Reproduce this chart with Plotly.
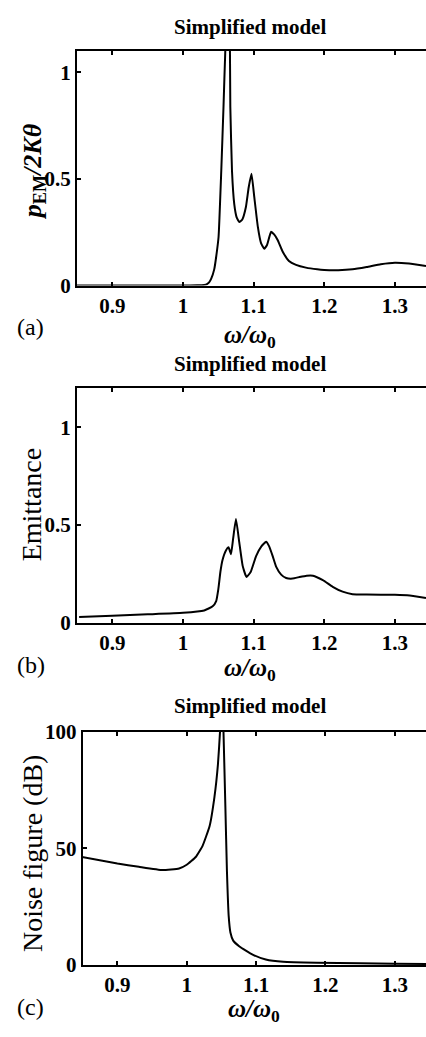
import plotly.graph_objects as go

W, H = 426, 1037

# ---------------- data ----------------
omega_a = [0.85, 0.95, 1.00, 1.02, 1.03, 1.034, 1.037, 1.040, 1.0443, 1.047, 1.0504, 1.0542, 1.0574, 1.0599,
           1.0625, 1.065, 1.0665, 1.067, 1.0694, 1.0726, 1.076, 1.0797, 1.084, 1.089, 1.093, 1.097,
           1.101, 1.106, 1.1105, 1.115, 1.119, 1.1247, 1.129, 1.134, 1.141, 1.150, 1.16, 1.174, 1.19,
           1.20, 1.22, 1.24, 1.26, 1.28, 1.30, 1.32, 1.344]
pem_a = [0.0, 0.0, 0.0, 0.001, 0.003, 0.007, 0.015, 0.032, 0.077, 0.135, 0.229, 0.537, 0.841, 1.1,
         1.25, 1.22, 1.1, 0.84, 0.537, 0.382, 0.32, 0.298, 0.31, 0.367, 0.46, 0.524,
         0.413, 0.275, 0.199, 0.173, 0.19, 0.252, 0.24, 0.214, 0.16, 0.115, 0.097, 0.084, 0.076,
         0.073, 0.072, 0.076, 0.087, 0.100, 0.107, 0.103, 0.092]

omega_b = [0.853, 0.9, 0.95, 1.0, 1.03, 1.042, 1.047, 1.050, 1.053, 1.056, 1.061, 1.0645, 1.068, 1.071,
           1.075, 1.0797, 1.0845, 1.090, 1.096, 1.1035, 1.111, 1.1176, 1.122, 1.127, 1.132, 1.139, 1.146,
           1.155, 1.165, 1.175, 1.184, 1.198, 1.212, 1.226, 1.240, 1.26, 1.30, 1.321, 1.344]
emit_b = [0.028, 0.035, 0.042, 0.05, 0.062, 0.083, 0.11, 0.17, 0.26, 0.32, 0.37, 0.385, 0.35, 0.43,
          0.53, 0.41, 0.29, 0.233, 0.26, 0.34, 0.39, 0.413, 0.39, 0.34, 0.285, 0.245, 0.228,
          0.225, 0.233, 0.24, 0.24, 0.217, 0.183, 0.158, 0.145, 0.143, 0.142, 0.138, 0.125]

omega_c = [0.849, 0.9, 0.931, 0.965, 0.989, 1.0, 1.013, 1.023, 1.033, 1.040, 1.045, 1.048, 1.0505,
           1.053, 1.0557, 1.058, 1.0605, 1.063, 1.067, 1.076, 1.095, 1.114, 1.139, 1.187, 1.25, 1.30, 1.345]
nf_c = [46.3, 43.5, 42.1, 40.7, 41.4, 43.0, 46.3, 51.2, 59.6, 72.1, 86.0, 100.0, 125.0,
        100.0, 68.0, 40.0, 21.0, 14.0, 10.5, 8.0, 4.5, 2.4, 1.4, 1.0, 0.8, 0.6, 0.5]

x_tickvals = [0.9, 1.0, 1.1, 1.2, 1.3]
x_ticktext = ["0.9", "1", "1.1", "1.2", "1.3"]
ya_tickvals = [0, 0.5, 1]
ya_ticktext = ["0", "0.5", "1"]
yc_tickvals = [0, 50, 100]
yc_ticktext = ["0", "50", "100"]

# ---------------- helpers ----------------
def xp(p):
    return p / W

def yp(p):
    return 1 - p / H

SERIF = "Liberation Serif"
curve = dict(color="black", width=2, shape="spline", smoothing=0.4)

fig = go.Figure()
fig.add_trace(go.Scatter(x=omega_a, y=pem_a, mode="lines", line=curve,
                         xaxis="x", yaxis="y", showlegend=False))
fig.add_trace(go.Scatter(x=omega_b, y=emit_b, mode="lines", line=curve,
                         xaxis="x2", yaxis="y2", showlegend=False))
fig.add_trace(go.Scatter(x=omega_c, y=nf_c, mode="lines", line=curve,
                         xaxis="x3", yaxis="y3", showlegend=False))

tickfont = dict(family=SERIF, size=21, color="black", weight="bold")

def xaxis(anchor, domain, rng):
    return dict(anchor=anchor, domain=domain, range=rng, tickvals=x_tickvals, ticktext=x_ticktext,
                ticks="inside", ticklen=4, tickwidth=1.5, tickcolor="black", showline=True,
                linecolor="black", linewidth=2, mirror="ticks", showgrid=False, zeroline=False,
                tickfont=tickfont)

def yaxis(anchor, domain, rng, tv, tt):
    return dict(anchor=anchor, domain=domain, range=rng, tickvals=tv, ticktext=tt,
                ticks="inside", ticklen=4, tickwidth=1.5, tickcolor="black", showline=True,
                linecolor="black", linewidth=2, mirror=False, showgrid=False, zeroline=False,
                tickfont=tickfont)

fig.update_layout(
    width=W, height=H, margin=dict(l=0, r=0, t=0, b=0),
    paper_bgcolor="white", plot_bgcolor="white",
    xaxis=xaxis("y", [xp(77), 1.0], [0.85, 1.344]),
    yaxis=yaxis("x", [yp(280), yp(40)], [0, 1.1], ya_tickvals, ya_ticktext),
    xaxis2=xaxis("y2", [xp(77), 1.0], [0.85, 1.344]),
    yaxis2=yaxis("x2", [yp(625), yp(385)], [0, 1.2], ya_tickvals, ya_ticktext),
    xaxis3=xaxis("y3", [xp(82.7), 1.0], [0.85, 1.345]),
    yaxis3=yaxis("x3", [yp(975.7), yp(736.7)], [0, 100], yc_tickvals, yc_ticktext),
)

ann = []
def text(x, y, s, size, angle=0, xanchor="center"):
    ann.append(dict(x=xp(x), y=yp(y), xref="paper", yref="paper", text=s, showarrow=False,
                    xanchor=xanchor, yanchor="middle", textangle=angle,
                    font=dict(family=SERIF, size=size, color="black")))

for ty in (15, 360, 710):
    text(250, ty, "<b>Simplified model</b>", 21)

xlab = "<b><i>ω/ω</i></b><sub><b>0</b></sub>"
text(250, 332, xlab, 25)
text(250, 673, xlab, 25)
text(254, 1022, xlab, 25)

text(15, 322, "(a)", 24, xanchor="left")
text(15, 668, "(b)", 24, xanchor="left")
text(15, 1019, "(c)", 24, xanchor="left")

text(34, 163, "<b><i>p</i></b><sub><b>EM</b></sub><b><i>/2Kθ</i></b>", 26, angle=-90)
text(31, 504, "Emittance", 28, angle=-90)
text(32, 861, "Noise figure (dB)", 28, angle=-90)

fig.update_layout(annotations=ann)
fig.write_html("out.html")
